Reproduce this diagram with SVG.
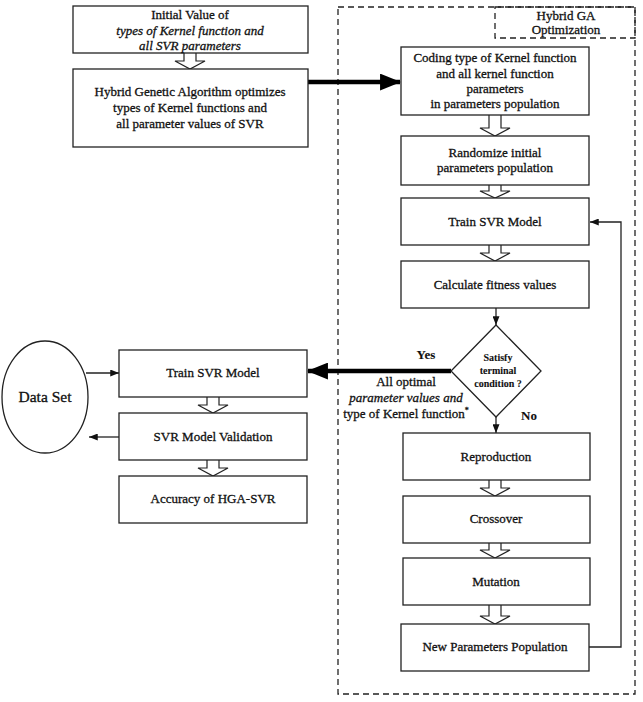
<svg xmlns="http://www.w3.org/2000/svg" width="643" height="702" viewBox="0 0 643 702">
<defs>
<style>
.box{fill:#fff;stroke:#222;stroke-width:1.3}
.t{font-family:"Liberation Serif","Times New Roman",serif;font-size:13px;fill:#111;stroke:#111;stroke-width:0.3;text-anchor:middle}
.i{font-style:italic}
.b{font-weight:bold;stroke-width:0.1}
.dash{fill:none;stroke:#222;stroke-width:1.3;stroke-dasharray:6 4}
.hollow{fill:#fff;stroke:#222;stroke-width:1.2}
.thin{fill:none;stroke:#222;stroke-width:1.3}
.thick{fill:none;stroke:#000;stroke-width:4.5}
</style>
<marker id="ah" viewBox="0 0 10 8" refX="10" refY="4" markerWidth="9" markerHeight="7" markerUnits="userSpaceOnUse" orient="auto">
<path d="M0,0 L10,4 L0,8 Z" fill="#111"/>
</marker>
<marker id="ahb" viewBox="0 0 20 16" refX="19" refY="8" markerWidth="21" markerHeight="17" markerUnits="userSpaceOnUse" orient="auto">
<path d="M0,0 L20,8 L0,16 Z" fill="#000"/>
</marker>
</defs>
<rect width="643" height="702" fill="#fff"/>

<g id="hga-region">
<rect class="dash" x="338" y="7" width="297" height="687"/>
<rect class="dash" x="495" y="7" width="140" height="31"/>
<text class="t" x="566" y="20">Hybrid GA</text>
<text class="t" x="566" y="34">Optimization</text>
</g>

<g id="connectors">
<path class="hollow" d="M184,53 V61 H175 L190,69 L205,61 H196 V53"/>
<path class="hollow" d="M489,115 V128 H480 L495,136 L510,128 H501 V115"/>
<path class="hollow" d="M489,185 V191 H480 L495,198 L510,191 H501 V185"/>
<path class="hollow" d="M489,245 V253 H480 L495,261 L510,253 H501 V245"/>
<path class="hollow" d="M489,480 V488 H480 L495,496 L510,488 H501 V480"/>
<path class="hollow" d="M489,543 V550 H480 L495,558 L510,550 H501 V543"/>
<path class="hollow" d="M489,605 V616 H480 L495,624 L510,616 H501 V605"/>
<path class="hollow" d="M207,397 V405 H198 L213,413 L228,405 H219 V397"/>
<path class="hollow" d="M207,460 V468 H198 L213,476 L228,468 H219 V460"/>
<line class="thick" x1="308" y1="82" x2="400" y2="82" marker-end="url(#ahb)"/>
<line class="thick" x1="451" y1="371" x2="308" y2="371" marker-end="url(#ahb)"/>
<line class="thin" x1="496" y1="308" x2="496" y2="325" marker-end="url(#ah)"/>
<line class="thin" x1="496" y1="417" x2="496" y2="433" marker-end="url(#ah)"/>
<polyline class="thin" points="589,647 621,647 621,222 590,222" marker-end="url(#ah)"/>
<line class="thin" x1="86" y1="373" x2="119" y2="373" marker-end="url(#ah)"/>
<line class="thin" x1="119" y1="437" x2="89" y2="437" marker-end="url(#ah)"/>
<text class="t b" x="426" y="359">Yes</text>
<text class="t" x="406" y="386">All optimal</text>
<text class="t i" x="406" y="402">parameter values and</text>
<text class="t" x="406" y="418">type of Kernel function<tspan font-size="8" dy="-5">*</tspan></text>
<text class="t b" x="529" y="420">No</text>
</g>

<g id="initial-value">
<rect class="box" x="73" y="6" width="235" height="47"/>
<text class="t" x="190" y="19">Initial Value of</text>
<text class="t i" x="190" y="35">types of Kernel function and</text>
<text class="t i" x="190" y="50">all SVR parameters</text>
</g>

<g id="hga-optimizes">
<rect class="box" x="73" y="69" width="235" height="78"/>
<text class="t" x="190" y="96">Hybrid Genetic Algorithm optimizes</text>
<text class="t" x="190" y="112">types of Kernel functions and</text>
<text class="t" x="190" y="128">all parameter values  of SVR</text>
</g>

<g id="coding">
<rect class="box" x="401" y="47" width="188" height="68"/>
<text class="t" x="495" y="62">Coding type of Kernel function</text>
<text class="t" x="495" y="78">and all kernel function</text>
<text class="t" x="495" y="93">parameters</text>
<text class="t" x="495" y="108">in parameters population</text>
</g>

<g id="randomize">
<rect class="box" x="401" y="136" width="188" height="49"/>
<text class="t" x="495" y="157">Randomize initial</text>
<text class="t" x="495" y="172">parameters population</text>
</g>

<g id="train-ga">
<rect class="box" x="401" y="198" width="188" height="47"/>
<text class="t" x="495" y="226">Train SVR Model</text>
</g>

<g id="fitness">
<rect class="box" x="401" y="261" width="188" height="47"/>
<text class="t" x="495" y="289">Calculate fitness values</text>
</g>

<g id="terminal">
<polygon class="box" points="496,325 541,371 496,417 451,371"/>
<text class="t b" x="498" y="361" style="font-size:10px">Satisfy</text>
<text class="t b" x="498" y="374" style="font-size:10px">terminal</text>
<text class="t b" x="498" y="387" style="font-size:10px">condition ?</text>
</g>

<g id="reproduction">
<rect class="box" x="403" y="433" width="187" height="47"/>
<text class="t" x="496" y="461">Reproduction</text>
</g>

<g id="crossover">
<rect class="box" x="403" y="496" width="187" height="47"/>
<text class="t" x="496" y="523">Crossover</text>
</g>

<g id="mutation">
<rect class="box" x="403" y="558" width="187" height="47"/>
<text class="t" x="496" y="586">Mutation</text>
</g>

<g id="new-population">
<rect class="box" x="401" y="624" width="188" height="47"/>
<text class="t" x="495" y="651">New Parameters Population</text>
</g>

<g id="data-set">
<ellipse class="box" cx="45" cy="397" rx="43" ry="56"/>
<text class="t" x="45" y="402" style="font-size:15.5px">Data Set</text>
</g>

<g id="train-final">
<rect class="box" x="119" y="350" width="188" height="47"/>
<text class="t" x="213" y="377">Train SVR Model</text>
</g>

<g id="validation">
<rect class="box" x="119" y="413" width="188" height="47"/>
<text class="t" x="213" y="441">SVR Model Validation</text>
</g>

<g id="accuracy">
<rect class="box" x="119" y="476" width="188" height="47"/>
<text class="t" x="213" y="503">Accuracy of HGA-SVR</text>
</g>
</svg>
